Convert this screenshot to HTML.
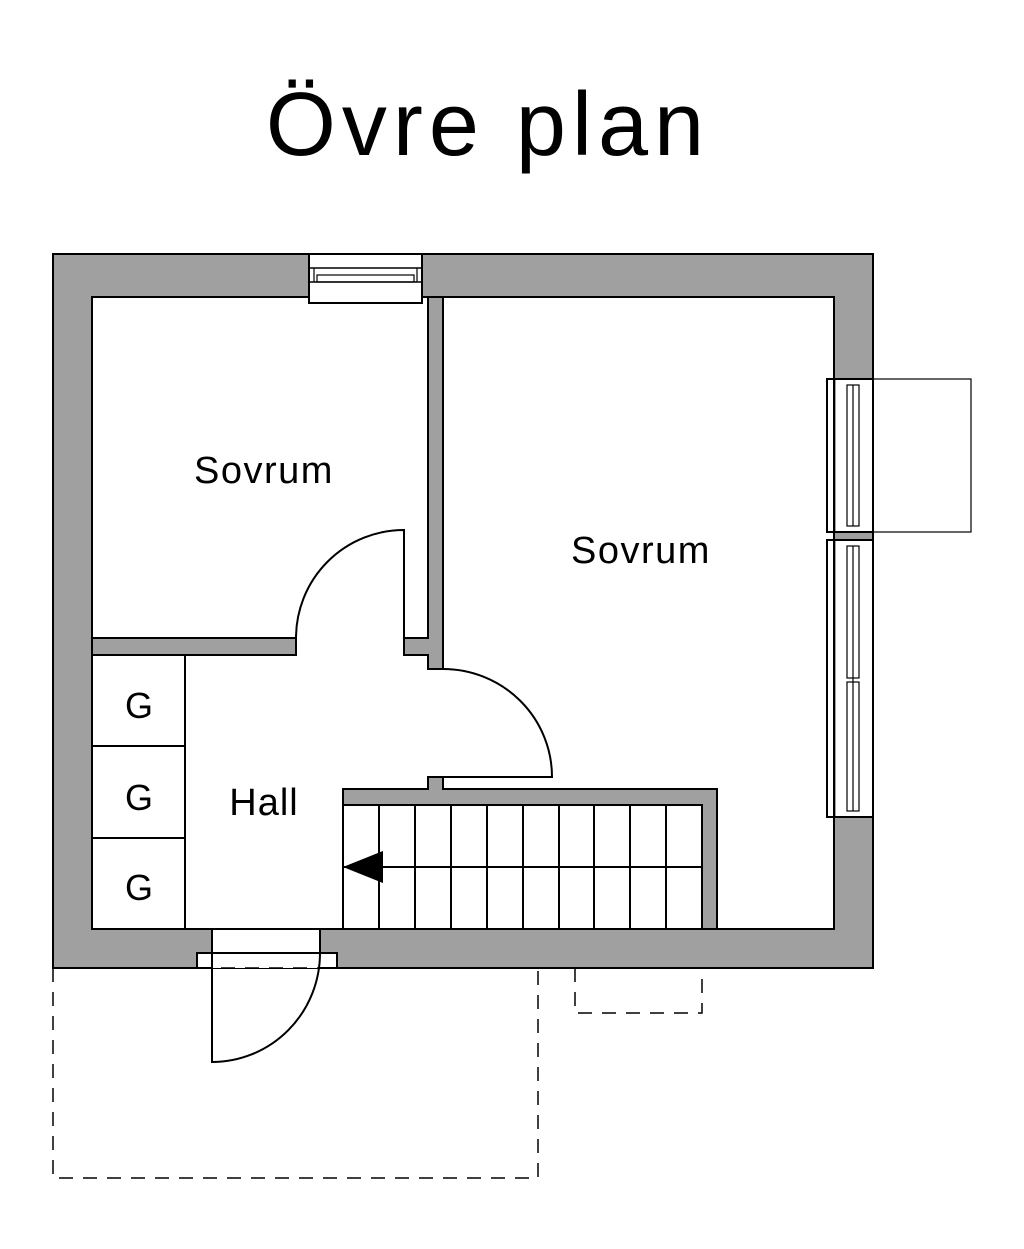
<!DOCTYPE html>
<html><head><meta charset="utf-8"><style>
html,body{margin:0;padding:0;background:#fff;width:1024px;height:1249px;overflow:hidden}
svg{display:block}
text{font-family:"Liberation Sans","DejaVu Sans",sans-serif;fill:#000}
</style></head><body>
<svg width="1024" height="1249" viewBox="0 0 1024 1249" xmlns="http://www.w3.org/2000/svg">
<text x="488" y="155" font-size="90" text-anchor="middle" letter-spacing="6">Övre plan</text>

<!-- outer walls -->
<path d="M53,254 H873 V968 H53 Z M92,297 V929 H834 V297 Z" fill="#a0a0a0" fill-rule="evenodd" stroke="#000" stroke-width="2"/>

<!-- interior walls -->
<g fill="#a0a0a0" stroke="#000" stroke-width="2">
<path d="M428,297 H443 V669 H428 V655 H404 V638 H428 Z"/>
<rect x="92" y="638" width="204" height="17"/>
<path d="M343,789 H428 V777 H443 V789 H717 V929 H702 V805 H343 Z"/>
</g>

<!-- top window -->
<rect x="309" y="252" width="113" height="44" fill="#fff" stroke="none"/>
<rect x="309" y="254" width="113" height="49" fill="#fff" stroke="#000" stroke-width="2"/>
<line x1="309" y1="268" x2="422" y2="268" stroke="#000" stroke-width="1.5"/>
<line x1="309" y1="282" x2="422" y2="282" stroke="#000" stroke-width="1.5"/>
<rect x="317" y="275" width="97" height="7" fill="none" stroke="#000" stroke-width="1.2"/>
<line x1="314" y1="268" x2="314" y2="282" stroke="#000" stroke-width="1.2"/>
<line x1="417" y1="268" x2="417" y2="282" stroke="#000" stroke-width="1.2"/>

<!-- right windows -->
<rect x="836" y="379" width="36" height="153" fill="#fff"/>
<rect x="836" y="540" width="36" height="277" fill="#fff"/>
<g fill="none" stroke="#000" stroke-width="2">
<rect x="827" y="379" width="46" height="153"/>
<rect x="827" y="540" width="46" height="277"/>
</g>
<g fill="none" stroke="#000" stroke-width="1.2">
<rect x="847" y="385" width="12" height="141"/>
<rect x="847" y="546" width="12" height="132"/>
<rect x="847" y="682" width="12" height="129"/>
<line x1="853" y1="385" x2="853" y2="526"/>
<line x1="853" y1="546" x2="853" y2="811"/>
</g>
<rect x="873" y="379" width="98" height="153" fill="none" stroke="#000" stroke-width="1.2"/>

<!-- doors -->
<g fill="none" stroke="#000" stroke-width="2">
<path d="M404,638 V530 A108,108 0 0 0 296,638"/>
<path d="M443,669 A109,108 0 0 1 552,777 H443"/>
</g>
<!-- entrance -->
<rect x="212" y="930" width="108" height="37" fill="#fff"/>
<rect x="197" y="953" width="140" height="15" fill="#fff" stroke="#000" stroke-width="2"/>
<line x1="212" y1="929" x2="212" y2="953" stroke="#000" stroke-width="2"/>
<line x1="320" y1="929" x2="320" y2="953" stroke="#000" stroke-width="2"/>
<rect x="213" y="954" width="106" height="14" fill="#fff"/>
<path d="M212,953 V1062 A108,109 0 0 0 320,953" fill="none" stroke="#000" stroke-width="2"/>

<!-- dashed -->
<g fill="none" stroke="#000" stroke-width="1.5" stroke-dasharray="14,10">
<path d="M53,968 V1178 H538 V968"/>
<path d="M575,968 V1013 H702 V968"/>
<line x1="197" y1="968" x2="337" y2="968"/>
</g>

<!-- closets -->
<g fill="none" stroke="#000" stroke-width="2">
<line x1="185" y1="655" x2="185" y2="929"/>
<line x1="92" y1="746" x2="185" y2="746"/>
<line x1="92" y1="838" x2="185" y2="838"/>
</g>

<!-- stairs -->
<g stroke="#000" stroke-width="2">
<line x1="343" y1="805" x2="343" y2="929"/>
<line x1="379" y1="805" x2="379" y2="929"/>
<line x1="415" y1="805" x2="415" y2="929"/>
<line x1="451" y1="805" x2="451" y2="929"/>
<line x1="487" y1="805" x2="487" y2="929"/>
<line x1="523" y1="805" x2="523" y2="929"/>
<line x1="559" y1="805" x2="559" y2="929"/>
<line x1="594" y1="805" x2="594" y2="929"/>
<line x1="630" y1="805" x2="630" y2="929"/>
<line x1="666" y1="805" x2="666" y2="929"/>
<line x1="343" y1="867" x2="702" y2="867"/>
</g>
<polygon points="343,867 383,851 383,883" fill="#000"/>

<!-- labels -->
<text x="264" y="483" font-size="38" text-anchor="middle" letter-spacing="1.5">Sovrum</text>
<text x="641" y="563" font-size="38" text-anchor="middle" letter-spacing="1.5">Sovrum</text>
<text x="264" y="815" font-size="38" text-anchor="middle" letter-spacing="1">Hall</text>
<text x="139" y="718" font-size="36" text-anchor="middle">G</text>
<text x="139" y="810" font-size="36" text-anchor="middle">G</text>
<text x="139" y="900" font-size="36" text-anchor="middle">G</text>
</svg>
</body></html>
